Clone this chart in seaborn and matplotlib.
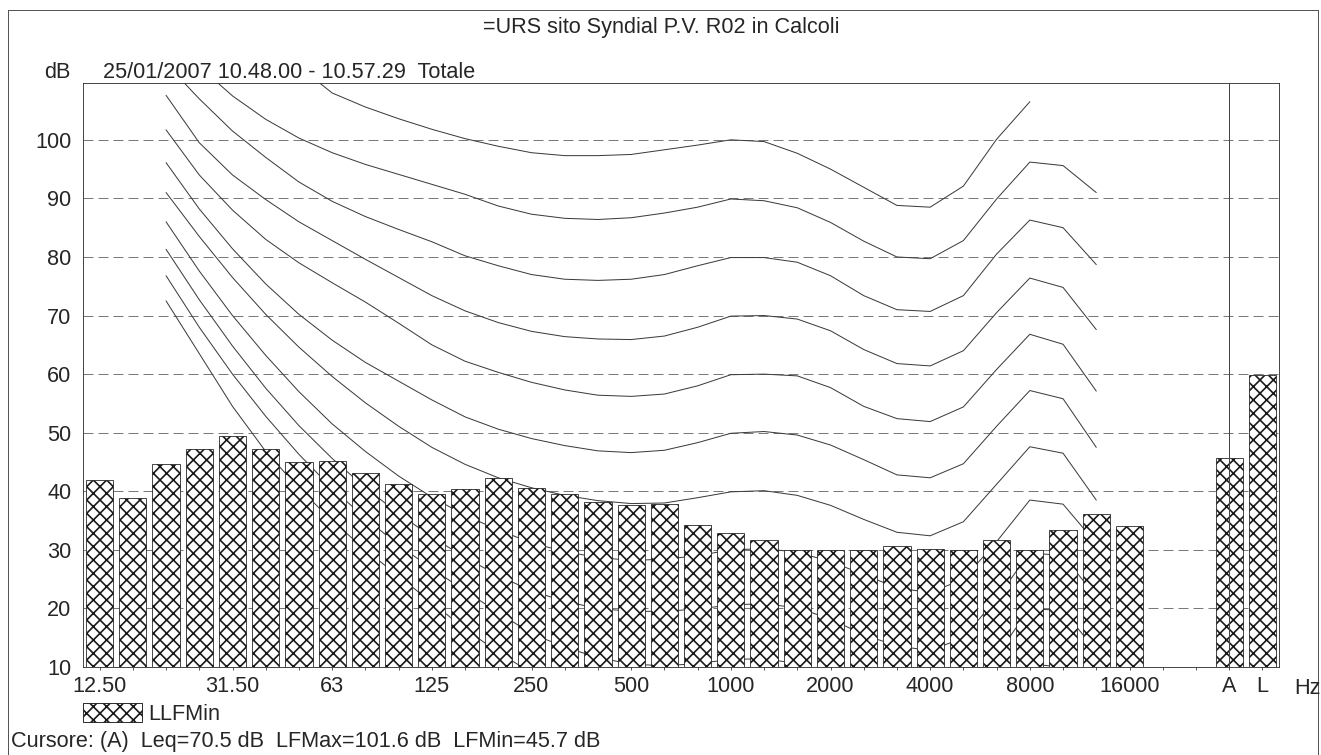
import numpy as np
import pandas as pd
import matplotlib
matplotlib.use("Agg")
import matplotlib.pyplot as plt
from matplotlib.lines import Line2D
from matplotlib.patches import Patch
import seaborn as sns

W, H, DPI = 1321, 755, 80

# third-octave bands (Hz)
bands = ["12.5", "16", "20", "25", "31.5", "40", "50", "63", "80", "100",
         "125", "160", "200", "250", "315", "400", "500", "630", "800", "1000",
         "1250", "1600", "2000", "2500", "3150", "4000", "5000", "6300", "8000",
         "10000", "12500", "16000"]

# LLFMin spectrum (dB)
levels = [42.0, 38.8, 44.6, 47.2, 49.4, 47.2, 45.0, 45.1, 43.1, 41.3,
          39.6, 40.4, 42.3, 40.5, 39.5, 38.1, 37.7, 37.9, 34.2, 32.9,
          31.7, 29.9, 29.9, 29.9, 30.6, 30.1, 29.9, 31.6, 30.0, 33.4,
          36.1, 34.1]

# overall values
total_names = ["A", "L"]
total_levels = [45.7, 59.8]

# labels shown under the axis
shown_labels = {"12.5": "12.50", "31.5": "31.50", "63": "63", "125": "125",
                "250": "250", "500": "500", "1000": "1000", "2000": "2000",
                "4000": "4000", "8000": "8000", "16000": "16000"}

# equal loudness curves, 20 Hz .. 12500 Hz (dB)
nan = np.nan
curve_bands = bands[2:31]
phon_0 = [72.5, 63.5, 54.5, 46.8, 40.5, 35.0, 30.0, 25.5, 21.0, 16.5, 12.5, 9.0, 6.5, 4.5, 3.0,
          2.0, 1.6, 2.0, 2.2, 1.5, -1.0, -3.5, -5.5, -6.0, -3.5, 3.0, 10.5, 10.0, 3.0]
phon_10 = [76.8, 68.0, 60.0, 52.8, 46.3, 40.5, 35.4, 30.8, 26.8, 23.0, 19.3, 15.7, 13.4, 11.6, 10.5,
           10.2, 10.6, 11.3, 11.4, 10.6, 8.5, 5.8, 3.8, 3.0, 5.3, 12.0, 20.0, 19.6, 12.8]
phon_20 = [81.3, 72.7, 64.8, 57.6, 51.2, 45.6, 40.6, 36.2, 32.2, 28.7, 25.6, 23.0, 21.2, 20.0, 19.5,
           19.5, 19.9, 20.6, 20.8, 20.1, 18.2, 15.5, 13.6, 12.8, 15.0, 21.7, 29.5, 29.0, 22.0]
phon_30 = [86.0, 77.6, 70.0, 63.2, 57.0, 51.5, 46.8, 42.6, 39.0, 35.9, 33.4, 31.2, 29.7, 28.7, 28.2,
           28.4, 29.0, 30.0, 30.2, 29.6, 28.0, 25.8, 23.5, 22.7, 25.0, 31.4, 38.5, 37.8, 31.1]
phon_40 = [91.0, 83.5, 76.5, 70.2, 64.6, 59.6, 55.1, 51.1, 47.5, 44.6, 42.3, 40.6, 39.3, 38.4, 37.9,
           38.0, 38.9, 39.9, 40.1, 39.3, 37.6, 35.2, 33.0, 32.4, 34.8, 41.2, 47.6, 46.5, 38.5]
phon_50 = [96.1, 88.2, 81.4, 75.4, 70.2, 65.8, 62.0, 58.8, 55.6, 52.7, 50.6, 49.0, 47.8, 46.9, 46.6,
           47.0, 48.3, 49.9, 50.2, 49.6, 47.9, 45.4, 42.8, 42.3, 44.7, 51.1, 57.2, 55.8, 47.5]
phon_60 = [101.7, 94.0, 88.0, 83.0, 79.0, 75.6, 72.3, 68.7, 65.0, 62.2, 60.3, 58.6, 57.3, 56.4, 56.2,
           56.6, 58.0, 59.9, 60.0, 59.7, 57.7, 54.5, 52.4, 51.9, 54.4, 60.8, 66.8, 65.1, 57.1]
phon_70 = [107.6, 99.5, 94.0, 89.8, 86.0, 82.8, 79.6, 76.5, 73.4, 70.8, 68.8, 67.3, 66.4, 66.0, 65.9,
           66.5, 68.0, 69.9, 70.0, 69.4, 67.4, 64.2, 61.8, 61.4, 64.0, 70.5, 76.4, 74.8, 67.6]
phon_80 = [113.0, 107.0, 101.5, 97.0, 92.8, 89.5, 86.9, 84.7, 82.6, 80.2, 78.5, 77.0, 76.2, 76.0, 76.2,
           77.0, 78.5, 79.9, 79.9, 79.1, 76.8, 73.4, 71.0, 70.7, 73.4, 80.5, 86.3, 85.0, 78.7]
phon_90 = [nan, 112.5, 107.5, 103.5, 100.3, 97.8, 95.8, 94.1, 92.4, 90.7, 88.7, 87.3, 86.6, 86.4, 86.7,
           87.5, 88.5, 89.9, 89.6, 88.4, 85.9, 82.7, 80.0, 79.7, 82.8, 89.9, 96.2, 95.6, 91.0]
phon_100 = [nan, nan, nan, nan, 112.5, 108.0, 105.6, 103.6, 101.8, 100.2, 98.9, 97.8, 97.3, 97.3, 97.5,
            98.3, 99.1, 100.0, 99.7, 97.7, 95.0, 91.9, 88.8, 88.5, 92.1, 100.1, 106.5, nan, nan]

curves = {0: phon_0, 10: phon_10, 20: phon_20, 30: phon_30, 40: phon_40, 50: phon_50,
          60: phon_60, 70: phon_70, 80: phon_80, 90: phon_90, 100: phon_100}

# slot positions: bands, two empty slots, then A and L
band_pos = {b: i for i, b in enumerate(bands)}
band_pos["A"] = len(bands) + 2
band_pos["L"] = len(bands) + 3

bars = pd.DataFrame({"band": bands + total_names, "level": levels + total_levels})
bars["pos"] = bars["band"].map(band_pos)

rows = []
for phon, vals in curves.items():
    for b, v in zip(curve_bands, vals):
        if not np.isnan(v):
            rows.append({"phon": phon, "pos": band_pos[b], "level": v})
lines = pd.DataFrame(rows)

sns.set_theme(style="white")
plt.rcParams["font.family"] = ["Liberation Sans", "DejaVu Sans"]
plt.rcParams["hatch.linewidth"] = 1.5
FS = 19.5

fig = plt.figure(figsize=(W / DPI, H / DPI), dpi=DPI)
ax = fig.add_axes([83 / W, 1 - 667 / H, (1279 - 83) / W, (667 - 83) / H])

# grid
for y in range(20, 101, 10):
    ax.axhline(y, color="#7a7a7a", lw=0.9, ls=(0, (10, 5)), zorder=0.5)

# curves behind the bars
sns.lineplot(data=lines, x="pos", y="level", units="phon", estimator=None,
             color="#3a3a3a", linewidth=0.9, sort=False, legend=False, ax=ax, zorder=1)

sns.barplot(data=bars, x="pos", y="level", native_scale=True, width=0.82,
            color="white", saturation=1, edgecolor="#1a1a1a", linewidth=0.7,
            errorbar=None, ax=ax)
for p in ax.patches:
    p.set_hatch("xx")
    p.set_zorder(2)

# cursor on A
ax.axvline(band_pos["A"], color="#444444", lw=0.9, zorder=4)

ax.set_xlim(-0.5, 35.5)
ax.set_ylim(10, 109.7)
ax.set_yticks(range(10, 101, 10))
ax.set_yticklabels([str(v) for v in range(10, 101, 10)], fontsize=FS)
all_pos = list(range(36))
xlabels = [""] * 36
for b, lab in shown_labels.items():
    xlabels[band_pos[b]] = lab
xlabels[band_pos["A"]] = "A"
xlabels[band_pos["L"]] = "L"
ax.set_xticks(all_pos)
ax.set_xticklabels(xlabels, fontsize=FS)
ax.tick_params(axis="x", length=3, width=0.8, color="#444444", pad=5, bottom=True)
ax.tick_params(axis="y", length=0, pad=10.5)
ax.set_xlabel("")
ax.set_ylabel("")
ax.grid(False)
for s in ax.spines.values():
    s.set_color("#333333")
    s.set_linewidth(0.8)

# texts
fig.text(661 / W, 1 - 28 / H, "=URS sito Syndial P.V. R02 in Calcoli", ha="center", va="center", fontsize=FS)
fig.text(57 / W, 1 - 72 / H, "dB", ha="center", va="center", fontsize=FS)
fig.text(103 / W, 1 - 72 / H, "25/01/2007 10.48.00 - 10.57.29  Totale", ha="left", va="center", fontsize=FS)
fig.text(1307 / W, 1 - 688 / H, "Hz", ha="center", va="center", fontsize=FS)
fig.text(11 / W, 1 - 741 / H, "Cursore: (A)  Leq=70.5 dB  LFMax=101.6 dB  LFMin=45.7 dB",
         ha="left", va="center", fontsize=FS)

handle = Patch(facecolor="white", edgecolor="#1a1a1a", hatch="xx", lw=0.8)
fig.legend([handle], ["LLFMin"], loc="center left", bbox_to_anchor=(83 / W, 1 - 714 / H),
           frameon=False, fontsize=FS, handlelength=2.7, handleheight=1.0,
           borderpad=0, borderaxespad=0, handletextpad=0.3)

# page frame
fig.add_artist(Line2D([8 / W, 8 / W], [0, 1 - 10 / H], color="#555555", lw=0.9))
fig.add_artist(Line2D([8 / W, 1318 / W], [1 - 10 / H, 1 - 10 / H], color="#555555", lw=0.9))
fig.add_artist(Line2D([1318 / W, 1318 / W], [0, 1 - 10 / H], color="#555555", lw=0.9))

fig.savefig("out.png", dpi=DPI)
